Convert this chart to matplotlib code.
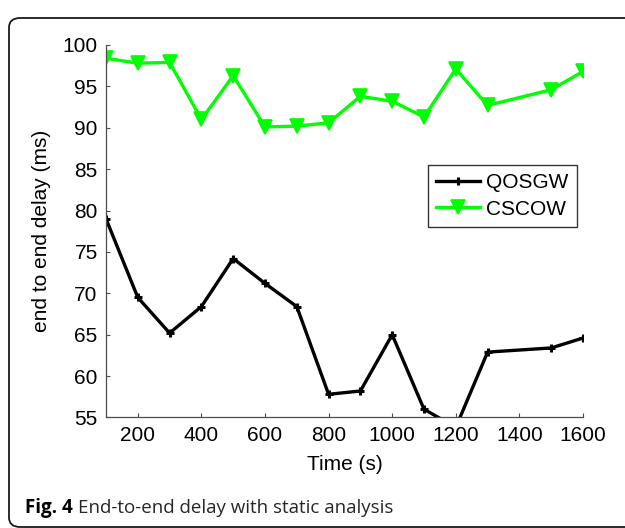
import numpy as np
import matplotlib
matplotlib.use('Agg')
from matplotlib import pyplot as plt
from matplotlib.patches import FancyBboxPatch

# data
time_s = [100, 200, 300, 400, 500, 600, 700, 800, 900, 1000, 1100, 1200, 1300, 1500, 1600]
qosgw = [79.0, 69.5, 65.2, 68.4, 74.2, 71.2, 68.4, 57.8, 58.2, 65.0, 56.0, 53.8, 62.9, 63.4, 64.6]
cscow = [98.4, 97.8, 97.9, 91.0, 96.3, 90.1, 90.2, 90.6, 93.8, 93.2, 91.3, 97.1, 92.7, 94.6, 96.8]
x_ticks = [200, 400, 600, 800, 1000, 1200, 1400, 1600]
y_ticks = [55, 60, 65, 70, 75, 80, 85, 90, 95, 100]

plt.rcParams['font.family'] = ['Liberation Sans', 'DejaVu Sans']

fig = plt.figure(figsize=(6.25, 5.28), dpi=100)
ax = fig.add_axes([0.1696, 0.2093, 0.7632, 0.7055])

ax.plot(time_s, qosgw, color='k', lw=2.4, marker='+', ms=6, mew=2.2, label='QOSGW')
ax.plot(time_s, cscow, color='#00ff00', lw=2.4, marker='v', ms=10, mew=1.2, label='CSCOW')

ax.set_xlim(100, 1600)
ax.set_ylim(55, 100)
ax.set_xticks(x_ticks)
ax.set_yticks(y_ticks)
ax.tick_params(direction='in', length=3, width=0.8, labelsize=15, pad=6, color='0.3')
for s in ['top', 'right']:
    ax.spines[s].set_visible(False)
for s in ['left', 'bottom']:
    ax.spines[s].set_color('0.3')
    ax.spines[s].set_linewidth(0.9)

ax.set_xlabel('Time (s)', fontsize=15, labelpad=7)
ax.set_ylabel('end to end delay (ms)', fontsize=15, labelpad=8)

leg = ax.legend(loc='upper right', bbox_to_anchor=(0.987, 0.678), fontsize=15,
                frameon=True, fancybox=False, handlelength=2.1, handletextpad=0.3,
                labelspacing=0.35, borderpad=0.4, borderaxespad=0)
leg.get_frame().set_edgecolor('k')
leg.get_frame().set_linewidth(1.0)

# rounded frame around the figure and caption
frame = FancyBboxPatch((9 / 625, 1 / 528), 1.1, 1 - 19 / 528,
                       boxstyle='round,pad=0,rounding_size=0.018',
                       transform=fig.transFigure, fill=False, ec='0.1', lw=1.3)
fig.patches.append(frame)

cap_y = 1 - 508 / 528
t = fig.text(25 / 625, cap_y, 'Fig. 4', fontsize=13.5, fontweight='bold',
             family='Open Sans', va='center', ha='left')
fig.canvas.draw()
bb = t.get_window_extent()
fig.text((bb.x1 + 5) / 625, cap_y, 'End-to-end delay with static analysis', fontsize=13.5,
         family='Open Sans', va='center', ha='left', color='0.15')

fig.savefig('out.png', dpi=100)
